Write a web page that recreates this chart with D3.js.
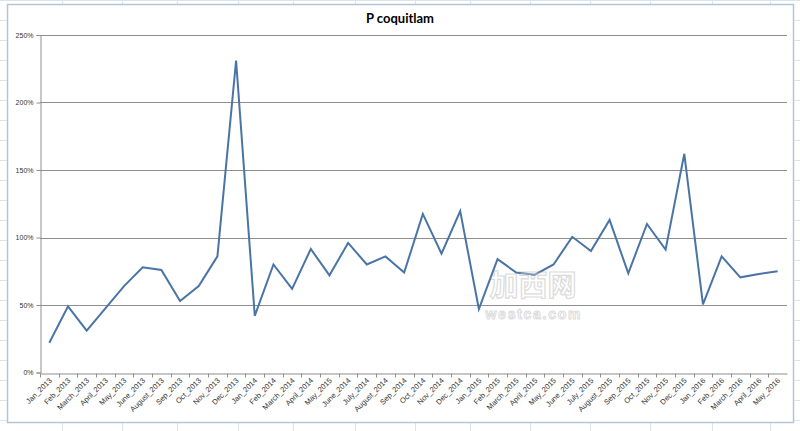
<!DOCTYPE html>
<html>
<head>
<meta charset="utf-8">
<script src="https://cdn.jsdelivr.net/npm/d3@7"></script>
<style>
  body { margin: 0; background: #fff; }
  svg { display: block; }
</style>
</head>
<body>
<div id="chart"></div>
<script>
// P coquitlam monthly ratio chart

var months = ["Jan_2013","Feb_2013","March_2013","April_2013","May_2013","June_2013","August_2013",
  "Sep_2013","Oct_2013","Nov_2013","Dec_2013","Jan_2014","Feb_2014","March_2014","April_2014",
  "May_2015","June_2014","July_2014","August_2014","Sep_2014","Oct_2014","Nov_2014","Dec_2014",
  "Jan_2015","Feb_2015","March_2015","April_2015","May_2015","June_2015","July_2015","August_2015",
  "Sep_2015","Oct_2015","Nov_2015","Dec_2015","Jan_2016","Feb_2016","March_2016","April_2016","May_2016"];

// percent values
var ratio = [22, 49, 31, 47.5, 64, 78, 76, 53, 64, 86, 231, 42, 80, 62, 91.5, 72, 96, 80, 86, 74,
  117.5, 88, 119.5, 47, 84, 74, 72.5, 80, 100.5, 90, 113, 73.5, 110, 91, 162, 50.5, 86, 70.5, 73, 75];

var yTicks = [0, 0.5, 1, 1.5, 2, 2.5];

var w = 800,
    h = 431;

var svg = d3.select("#chart")
            .append("svg")
            .attr("width", w)
            .attr("height", h);

// spreadsheet cells peeking around the chart
var bg = svg.append("g").attr("stroke", "#dde3ea").attr("stroke-width", 1);
[62, 122, 177, 238, 293, 355, 415, 470, 530, 590, 650, 712, 770].forEach(function(x){
  bg.append("line").attr("x1", x + .5).attr("x2", x + .5).attr("y1", 0).attr("y2", h);
});
d3.range(0, h, 20).forEach(function(y){
  bg.append("line").attr("x1", 0).attr("x2", w).attr("y1", y + .5).attr("y2", y + .5);
});

// chart area
svg.append("rect")
   .attr("x", 7.5).attr("y", 4.5)
   .attr("width", 786).attr("height", 418)
   .attr("fill", "#fff")
   .attr("stroke", "#b4c6d6")
   .attr("stroke-width", 1.5);

svg.append("text")
   .attr("x", 400)
   .attr("y", 23)
   .attr("text-anchor", "middle")
   .attr("font-family", "Lato, 'Liberation Sans', sans-serif")
   .attr("font-size", "13px")
   .attr("font-weight", "bold")
   .attr("fill", "#000")
   .text("P coquitlam");

// months has a repeated label, so the band scale works on indexes
var idx = d3.range(months.length);
var x = d3.scaleBand().domain(idx).range([40, 787]);
var y = d3.scaleLinear().domain([0, 2.5]).range([372.5, 35]);

var g = svg.append("g");

// gridlines
g.selectAll("line.grid")
 .data(yTicks.slice(1))
 .enter()
 .append("line")
 .attr("class", "grid")
 .attr("x1", 40).attr("x2", 787)
 .attr("y1", function(d){ return Math.round(y(d)) + .5; })
 .attr("y2", function(d){ return Math.round(y(d)) + .5; })
 .attr("stroke", "#8e8e8e")
 .attr("stroke-width", 1);

// y axis
var yAxis = g.append("g")
  .attr("transform", "translate(40.5,0)")
  .call(d3.axisLeft(y).tickValues(yTicks).tickFormat(d3.format(".0%")).tickSize(4).tickPadding(3));
yAxis.select(".domain").attr("stroke", "#8e8e8e");
yAxis.selectAll(".tick line").attr("stroke", "#8e8e8e");
yAxis.selectAll("text")
  .attr("font-family", "'Liberation Sans', Arial, sans-serif")
  .attr("font-size", "7px")
  .attr("fill", "#333");

// x axis, ticks between categories
var xAxis = g.append("g")
  .attr("transform", "translate(0," + (Math.round(y(0)) + .5) + ")")
  .call(d3.axisBottom(x).tickSize(0).tickSizeOuter(0).tickFormat(""));
xAxis.select(".domain").attr("stroke", "#8e8e8e");

xAxis.selectAll("line.sep")
  .data(idx)
  .enter()
  .append("line")
  .attr("class", "sep")
  .attr("x1", function(i){ return Math.round(x(i)) + .5; })
  .attr("x2", function(i){ return Math.round(x(i)) + .5; })
  .attr("y1", 0).attr("y2", 4)
  .attr("stroke", "#8e8e8e");

g.selectAll("text.mlabel")
 .data(idx)
 .enter()
 .append("text")
 .attr("class", "mlabel")
 .attr("text-anchor", "end")
 .attr("font-family", "'Liberation Sans', Arial, sans-serif")
 .attr("font-size", "7.5px")
 .attr("fill", "#333")
 .attr("transform", function(i){
   var cx = x(i) + x.bandwidth() / 2 + 3;
   return "translate(" + cx + ",381) rotate(-45)";
 })
 .text(function(i){ return months[i]; });

// the series
var line = d3.line()
  .x(function(d, i){ return x(i) + x.bandwidth() / 2; })
  .y(function(d){ return y(d / 100); });

g.append("path")
 .datum(ratio)
 .attr("d", line)
 .attr("fill", "none")
 .attr("stroke", "#4a74a6")
 .attr("stroke-width", 2)
 .attr("stroke-linejoin", "miter");

// faint watermark
var wm = svg.append("g").attr("opacity", 0.3);
wm.append("text")
  .attr("x", 533).attr("y", 296)
  .attr("text-anchor", "middle")
  .attr("font-family", "'Noto Sans CJK SC', sans-serif")
  .attr("font-size", "29px")
  .attr("font-weight", "bold")
  .attr("fill", "#fff")
  .attr("stroke", "#8a8a8a")
  .attr("stroke-width", 1.2)
  .text("加西网");
wm.append("text")
  .attr("x", 533).attr("y", 319)
  .attr("text-anchor", "middle")
  .attr("textLength", 95)
  .attr("lengthAdjust", "spacing")
  .attr("font-family", "'Liberation Sans', Arial, sans-serif")
  .attr("font-size", "14px")
  .attr("font-weight", "bold")
  .attr("fill", "#fff")
  .attr("stroke", "#8a8a8a")
  .attr("stroke-width", 1)
  .text("westca.com");
</script>
</body>
</html>
